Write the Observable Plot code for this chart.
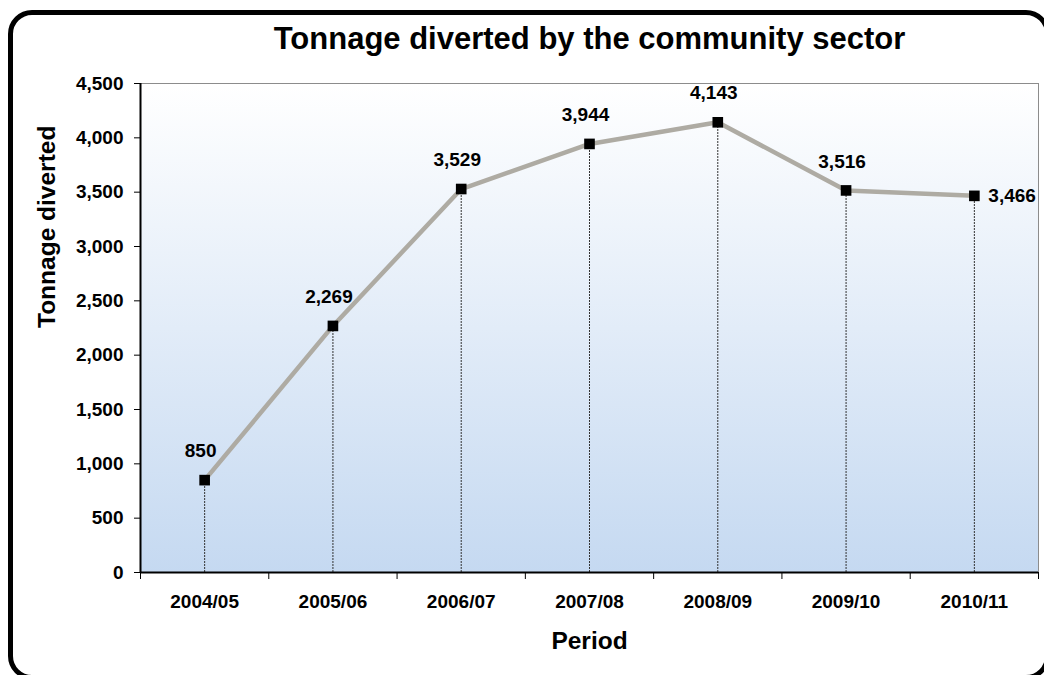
<!DOCTYPE html>
<html>
<head>
<meta charset="utf-8">
<script src="https://cdn.jsdelivr.net/npm/d3@7"></script>
<script src="https://cdn.jsdelivr.net/npm/@observablehq/plot@0.6"></script>
<style>
  html, body { margin: 0; padding: 0; width: 1044px; height: 675px; overflow: hidden; background: #fff; }
  #chart { position: absolute; left: 0; top: 0; }
  #border {
    position: absolute; left: 8px; top: 10px; width: 1042px; height: 670px;
    box-sizing: border-box; border: 5px solid #000; border-radius: 24px; pointer-events: none;
  }
</style>
</head>
<body>
<div id="chart"></div>
<div id="border"></div>
<script>
const chartTitle = "Tonnage diverted by the community sector";
const yTitle = "Tonnage diverted";
const xTitle = "Period";
const periods = ["2004/05", "2005/06", "2006/07", "2007/08", "2008/09", "2009/10", "2010/11"];
const tonnage = [850, 2269, 3529, 3944, 4143, 3516, 3466];
const yTicks = [0, 500, 1000, 1500, 2000, 2500, 3000, 3500, 4000, 4500];

const fmt = d3.format(",");
const data = periods.map((p, i) => ({ period: p, pos: i + 0.5, value: tonnage[i], label: fmt(tonnage[i]) }));
const font = "'Liberation Sans', Arial, sans-serif";

const plot = Plot.plot({
  width: 1044,
  height: 675,
  marginLeft: 140,
  marginRight: 6,
  marginTop: 83,
  marginBottom: 103,
  x: { type: "linear", domain: [0, periods.length] },
  y: { domain: [0, 4500] },
  style: { fontFamily: font, fontSize: "19px", fontWeight: "bold", color: "#000", background: "transparent" },
  marks: [
    Plot.frame({ fill: "url(#bggrad)", stroke: "#8c8c8c", strokeWidth: 1 }),
    Plot.ruleX(data, { x: "pos", y1: 0, y2: "value", stroke: "#333", strokeWidth: 1, strokeDasharray: "2,1" }),
    Plot.line(data, { x: "pos", y: "value", stroke: "#aeaba3", strokeWidth: 4.5 }),
    Plot.dot(data, { x: "pos", y: "value", symbol: "square", r: 6, fill: "#000", stroke: "none" }),
    Plot.text(data.slice(0, -1), { x: "pos", y: "value", text: "label", dy: -29, dx: -4, fontSize: 19, fontWeight: "bold", lineAnchor: "middle" }),
    Plot.text(data.slice(-1), { x: "pos", y: "value", text: "label", dx: 14, textAnchor: "start", fontSize: 19, fontWeight: "bold", lineAnchor: "middle" }),
    Plot.ruleY([0], { stroke: "#000", strokeWidth: 2 }),
    Plot.ruleX([0], { stroke: "#000", strokeWidth: 2 }),
    Plot.axisY({ ticks: yTicks, tickFormat: fmt, tickSize: 6, tickPadding: 11, label: null, fontSize: 19 }),
    Plot.axisX({ ticks: d3.range(periods.length + 1), tickFormat: () => "", tickSize: 7, label: null }),
    Plot.axisX({ ticks: data.map(d => d.pos), tickFormat: v => periods[Math.floor(v)], tickSize: 0, tickPadding: 22, label: null, fontSize: 19 }),
    Plot.text([chartTitle], { text: d => d, frameAnchor: "top", dy: -44, lineAnchor: "middle", fontSize: 31, fontWeight: "bold" }),
    Plot.text([yTitle], { text: d => d, frameAnchor: "left", rotate: -90, dx: -93, lineAnchor: "middle", fontSize: 24.5, fontWeight: "bold" }),
    Plot.text([xTitle], { text: d => d, frameAnchor: "bottom", dy: 69, lineAnchor: "middle", fontSize: 24.5, fontWeight: "bold" })
  ]
});

// gradient definition for the plot-area fill
const svg = d3.select(plot);
const defs = svg.insert("defs", ":first-child");
const grad = defs.append("linearGradient").attr("id", "bggrad").attr("x1", 0).attr("y1", 0).attr("x2", 0).attr("y2", 1);
grad.append("stop").attr("offset", "0%").attr("stop-color", "#ffffff");
grad.append("stop").attr("offset", "100%").attr("stop-color", "#c5d9f1");

document.getElementById("chart").appendChild(plot);
</script>
</body>
</html>
